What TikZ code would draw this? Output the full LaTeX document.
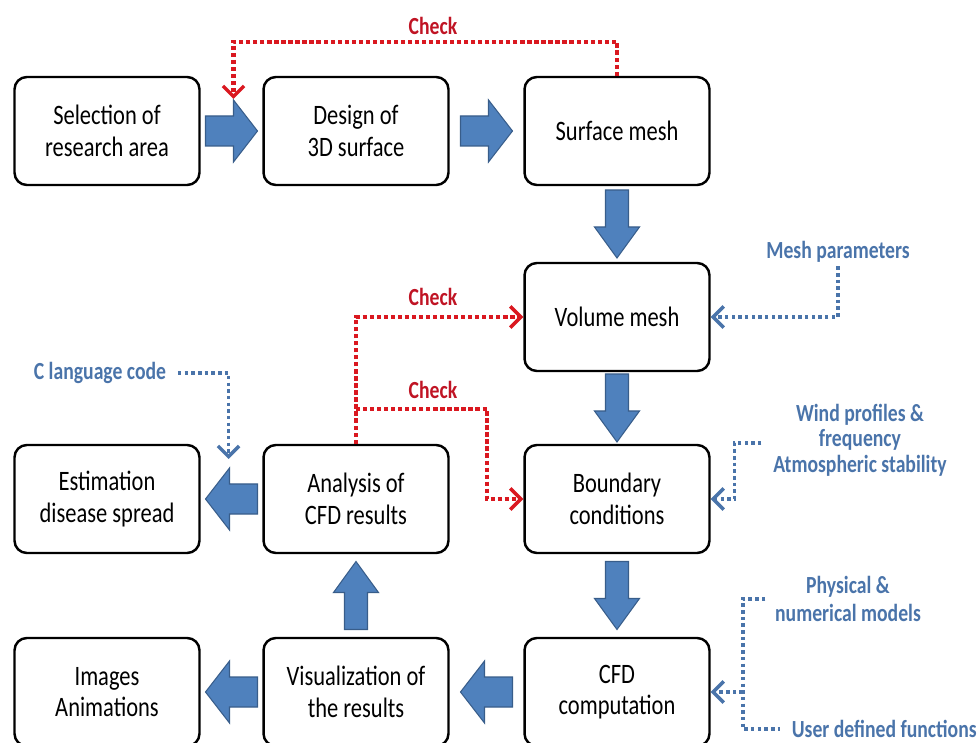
\documentclass[tikz,border=0pt]{standalone}
\usepackage{fontspec}
\setmainfont{Carlito}[FakeStretch=0.8]
\usepackage{tikz}
\usetikzlibrary{calc,arrows.meta}
\definecolor{arrowblue}{RGB}{79,129,189}
\definecolor{arrowedge}{RGB}{56,93,138}
\definecolor{inblue}{RGB}{74,116,170}
\definecolor{chkred}{RGB}{218,24,32}
\definecolor{chktext}{RGB}{192,20,36}
\tikzset{
	box/.style={draw, line width=1.4pt, rounded corners=7pt, fill=white, minimum width=3.7cm, minimum height=2.16cm, align=center, font=\fontsize{16}{18}\selectfont},
	fatarrow/.style={fill=arrowblue, draw=arrowedge, line width=0.6pt},
	checkline/.style={draw=chkred, line width=2.4pt, dash pattern=on 2.4pt off 1.6pt},
	checktip/.style={-{Straight Barb[length=6pt,width=12pt,line width=2pt]}},
	checklabel/.style={text=chktext, font=\bfseries\fontsize{14}{16}\selectfont},
	inputline/.style={draw=inblue, line width=2pt, dash pattern=on 2pt off 1.8pt},
	inputtip/.style={-{Straight Barb[length=6pt,width=12pt,line width=2pt]}},
	inputlabel/.style={text=inblue, align=center, inner sep=2pt, font=\bfseries\fontsize{14}{14.5}\selectfont}
}
\def\fatarrow(#1)(#2:#3:#4:#5:#6){\draw[fatarrow, shift={(#1)}, rotate=#2] ({-#3/2},{-#4/2}) -- ({#3/2-#6},{-#4/2}) -- ({#3/2-#6},{-#5/2}) -- ({#3/2},0) -- ({#3/2-#6},{#5/2}) -- ({#3/2-#6},{#4/2}) -- ({-#3/2},{#4/2}) -- cycle;}
\def\harrow(#1)(#2){\fatarrow(#1)(#2:52:30:62:24)}
\def\varrow(#1)(#2){\fatarrow(#1)(#2:68:23:45:31)}

\begin{document}
\begin{tikzpicture}[x=0.02cm, y=-0.02cm]
	%%%%% START %%%%%
	\useasboundingbox (0,0) rectangle (978,743);
	
	% boxes
	\node[box] (sel) at (107,131) {Selection of\\research area};
	\node[box] (des) at (356,131) {Design of\\3D surface};
	\node[box] (surf) at (617,131) {Surface mesh};
	\node[box] (vol) at (617,317) {Volume mesh};
	\node[box] (bnd) at (617,499) {Boundary\\conditions};
	\node[box] (cfd) at (617,692) {CFD\\computation};
	\node[box] (ana) at (356,499) {Analysis of\\CFD results};
	\node[box] (vis) at (356,692) {Visualization of\\the results};
	\node[box] (est) at (107,499) {Estimation\\disease spread};
	\node[box] (img) at (107,692) {Images\\Animations};
	
	% fat arrows
	\coordinate (m1) at ($(sel.east)!0.5!(des.west)$);
	\coordinate (m2) at ($(des.east)!0.5!(surf.west)$);
	\coordinate (m3) at ($(surf.south)!0.5!(vol.north)$);
	\coordinate (m4) at ($(vol.south)!0.5!(bnd.north)$);
	\coordinate (m5) at ($(bnd.south)!0.5!(cfd.north)$);
	\coordinate (m6) at ($(cfd.west)!0.5!(vis.east)$);
	\coordinate (m7) at ($(vis.west)!0.5!(img.east)$);
	\coordinate (m8) at ($(vis.north)!0.5!(ana.south)$);
	\coordinate (m9) at ($(ana.west)!0.5!(est.east)$);
	\harrow(m1)(0)
	\harrow(m2)(0)
	\varrow(m3)(-90)
	\varrow(m4)(-90)
	\varrow(m5)(-90)
	\harrow(m6)(180)
	\harrow(m7)(180)
	\varrow(m8)(90)
	\harrow(m9)(180)
	
	% check loops
	\node[checklabel] (chkA) at (433,26) {Check};
	\node[checklabel] (chkB) at (433,297) {Check};
	\node[checklabel] (chkC) at (433,390) {Check};
	\coordinate (t1) at ($(m1)+(2,-32)$);
	\draw[checkline, checktip] (surf.north) -- ++(0,-34) -| (t1);
	\draw[checkline, checktip] (ana.north) |- (vol.west);
	\coordinate (br) at ($(ana.north)+(0,-35)$);
	\draw[checkline, checktip] (br) -- ++(131,0) |- (bnd.west);
	
	% inputs
	\node[inputlabel] (meshp) at (838,252) {Mesh parameters};
	\node[inputlabel] (wind) at (860,440) {Wind profiles \&\\frequency\\Atmospheric stability};
	\node[inputlabel, font=\bfseries\fontsize{14}{16}\selectfont] (phys) at (848,599) {Physical \&\\numerical models};
	\node[inputlabel, anchor=west] (udf) at (788,729) {User defined functions};
	\node[inputlabel] (clang) at (100,373) {C language code};
	
	\draw[inputline, inputtip] (meshp.south) |- (vol.east);
	\draw[inputline, inputtip] ($(wind.west)+(-8,3)$) -- ++(-27,0) |- (bnd.east);
	\coordinate (bus) at ($(udf.west)+(-45,0)$);
	\draw[inputline] ($(phys.west)+(-6,0)$) -| (bus) -- ($(udf.west)+(-8,0)$);
	\draw[inputline, inputtip] (bus |- cfd.east) -- (cfd.east);
	\coordinate (t2) at ($(m9)+(-3,-40)$);
	\draw[inputline, inputtip] ($(clang.east)+(8,0)$) -| (t2);
	%%%%% END %%%%%
\end{tikzpicture}
\end{document}
